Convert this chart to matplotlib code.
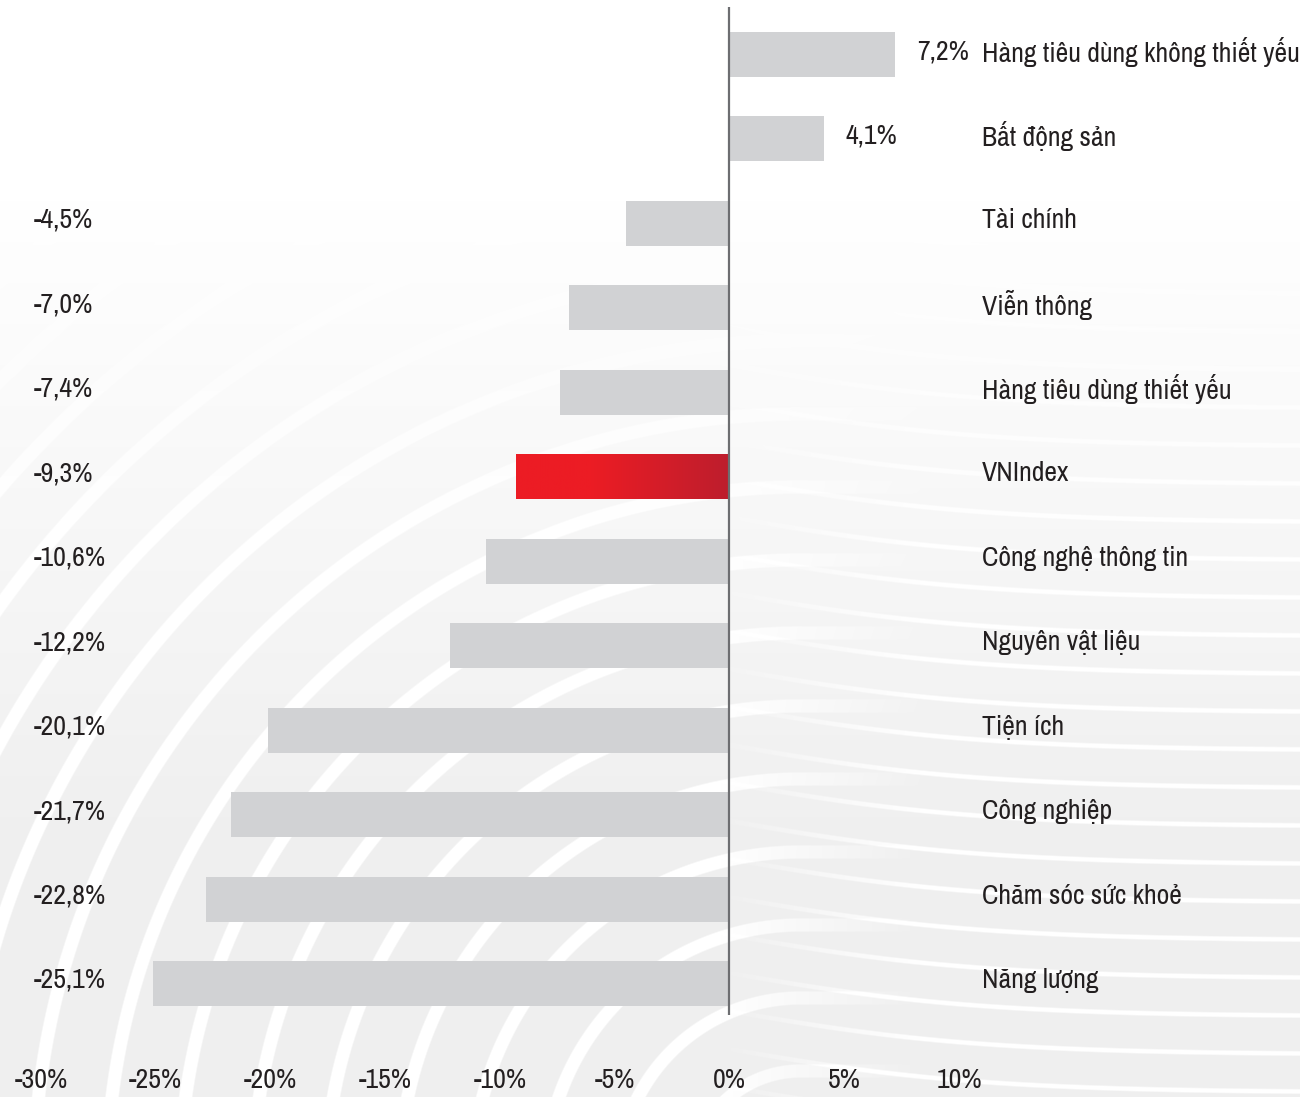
import numpy as np
import matplotlib.pyplot as plt
from matplotlib import font_manager as fm
from matplotlib.colors import LinearSegmentedColormap

# chọn font chữ hẹp đầu tiên có sẵn
available = {f.name for f in fm.fontManager.ttflist}
preferred = ['Nimbus Sans Narrow', 'Liberation Sans Narrow', 'Arial Narrow',
             'Archivo Narrow', 'Roboto Condensed']
narrow = [n for n in preferred if n in available][:1]
plt.rcParams['font.family'] = narrow + ['DejaVu Sans']

# dữ liệu: thay đổi theo ngành (%)
sectors = ['Hàng tiêu dùng không thiết yếu', 'Bất động sản', 'Tài chính', 'Viễn thông',
           'Hàng tiêu dùng thiết yếu', 'VNIndex', 'Công nghệ thông tin', 'Nguyên vật liệu',
           'Tiện ích', 'Công nghiệp', 'Chăm sóc sức khoẻ', 'Năng lượng']
changes = [7.2, 4.1, -4.5, -7.0, -7.4, -9.3, -10.6, -12.2, -20.1, -21.7, -22.8, -25.1]
highlight = 'VNIndex'
xticks = [-30, -25, -20, -15, -10, -5, 0, 5, 10]

TEXT = '#231f20'
GREY_BAR = '#d1d2d4'
FS = 20

W, H = 1300, 1097
fig = plt.figure(figsize=(W / 100, H / 100), dpi=100)

# nền: vân tay xám nhạt ở nửa dưới
bg = fig.add_axes([0, 0, 1, 1], zorder=0)
yy, xx = np.mgrid[0:H, 0:W].astype(float)
cx, cy = 800.0, 1180.0


def stripes(field, period, width):
    d = np.abs((field / period) % 1.0 - 0.5)
    return np.clip((width * period / 2 - d * period) / 1.5 + 0.5, 0, 1)


# vòng cung bên trái, đường lượn gần ngang bên phải
f_left = np.sqrt(np.maximum(cx - xx, 0) ** 2 + (cy - yy) ** 2)
s_left = stripes(f_left, 73, 0.18)
f_right = (cy - yy) + 45 * np.tanh((xx - 720) / 260)
s_right = stripes(f_right, 38, 0.12)
t = np.clip((xx - (cx - 80)) / 200, 0, 1)
stripe = s_left * (1 - t) + s_right * t
stripe *= np.clip((yy - 220) / 300, 0, 1)
shade = 1 - 0.062 * np.clip((yy - 200) / 650, 0, 1)
img = shade * (1 - stripe) + stripe
bg.imshow(np.dstack([img, img, img]), aspect='auto', interpolation='bilinear')
bg.set_axis_off()

# trục chính
ax_left, ax_right = 41, 959
ax_top, ax_bottom = 7, 1015
ax = fig.add_axes([ax_left / W, (H - ax_bottom) / H, (ax_right - ax_left) / W,
                   (ax_bottom - ax_top) / H], zorder=1)
ax.patch.set_alpha(0)

y = np.arange(len(sectors))
bars = ax.barh(y, changes, height=0.533, color=GREY_BAR, zorder=2)

# thanh VNIndex tô gradient đỏ
red_cmap = LinearSegmentedColormap.from_list(
    'red', [(0, '#ed1c24'), (0.35, '#ec1c24'), (1, '#bd1e2d')])
b = bars[sectors.index(highlight)]
b.set_facecolor('none')
bx0 = min(b.get_x(), b.get_x() + b.get_width())
bx1 = max(b.get_x(), b.get_x() + b.get_width())
by0, by1 = b.get_y(), b.get_y() + b.get_height()
grad = ax.imshow(np.linspace(0, 1, 256).reshape(1, -1), cmap=red_cmap, aspect='auto',
                 extent=[bx0, bx1, by1, by0], zorder=2.5)
grad.set_clip_path(b)

ax.set_xlim(-30, 10)
ax.set_ylim(11.373, -0.5625)
ax.axvline(0, color='#6d6e71', lw=1.6, zorder=3)

for i, (name, v) in enumerate(zip(sectors, changes)):
    label = f'{v:.1f}%'.replace('.', ',')
    if v < 0:
        ax.annotate(label, xy=(0, i), xycoords=('axes fraction', 'data'),
                    xytext=(-7, 3), textcoords='offset pixels',
                    ha='left', va='center', fontsize=FS, color=TEXT)
    else:
        ax.annotate(label, xy=(v, i), xytext=(22, 3), textcoords='offset pixels',
                    ha='left', va='center', fontsize=FS, color=TEXT)
    ax.annotate(name, xy=(1, i), xycoords=('axes fraction', 'data'),
                xytext=(23, 3), textcoords='offset pixels',
                ha='left', va='center', fontsize=FS, color=TEXT)

ax.set_xticks(xticks)
ax.set_xticklabels([f'{t}%' for t in xticks], fontsize=FS, color=TEXT)
ax.tick_params(axis='x', length=0, pad=38)
ax.set_yticks([])
for sp in ax.spines.values():
    sp.set_visible(False)

fig.savefig('out.png', dpi=100)
